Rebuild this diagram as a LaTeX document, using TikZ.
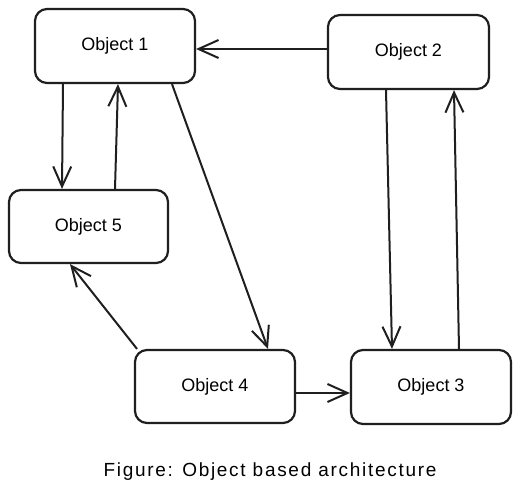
\documentclass[tikz,border=0pt]{standalone}
\usepackage{fontspec}
\setmainfont{Liberation Sans}
\newfontfamily\capfont[LetterSpace=9]{Liberation Sans}
\usetikzlibrary{arrows.meta}
\begin{document}
\begin{tikzpicture}[x=1pt,y=-1pt,
  obj/.style={draw=black!88, line width=2.2pt, rounded corners=12pt, fill=white,
    inner sep=0pt, font=\fontsize{18}{22}\selectfont},
  conn/.style={draw=black!88, line width=2pt,
    -{Straight Barb[length=20pt,width=18pt,line width=2pt]}},
  captext/.style={font=\capfont\fontsize{19}{22}\selectfont}]
\useasboundingbox[fill=white] (0,0) rectangle (520,497);
\node[obj, minimum width=160pt, minimum height=74pt] (o1) at (115,46) {Object 1};
\node[obj, minimum width=161pt, minimum height=74pt] (o2) at (408.5,52) {Object 2};
\node[obj, minimum width=159pt, minimum height=73pt] (o5) at (88.5,226.5) {Object 5};
\node[obj, minimum width=160pt, minimum height=73pt] (o4) at (215,386.5) {Object 4};
\node[obj, minimum width=160pt, minimum height=74pt] (o3) at (431,387) {Object 3};
\node[captext] (cap) at (270,472) {Figure: Object based architecture};
\draw[conn] ([yshift=3pt]o2.west) -- ([yshift=-3pt]o1.east);
\draw[conn] ([xshift=-52pt]o1.south) -- ([xshift=-26.5pt]o5.north);
\draw[conn] ([xshift=26.5pt]o5.north) -- ([xshift=3pt]o1.south);
\draw[conn] ([xshift=57pt]o1.south) -- ([xshift=53pt]o4.north);
\draw[conn] ([xshift=-78pt]o4.north) -- ([xshift=-18.5pt]o5.south);
\draw[conn] ([yshift=-6.5pt]o4.east) -- ([yshift=-6pt]o3.west);
\draw[conn] ([xshift=-22.5pt]o2.south) -- ([xshift=-39pt]o3.north);
\draw[conn] ([xshift=28pt]o3.north) -- ([xshift=45.5pt]o2.south);
\end{tikzpicture}
\end{document}
